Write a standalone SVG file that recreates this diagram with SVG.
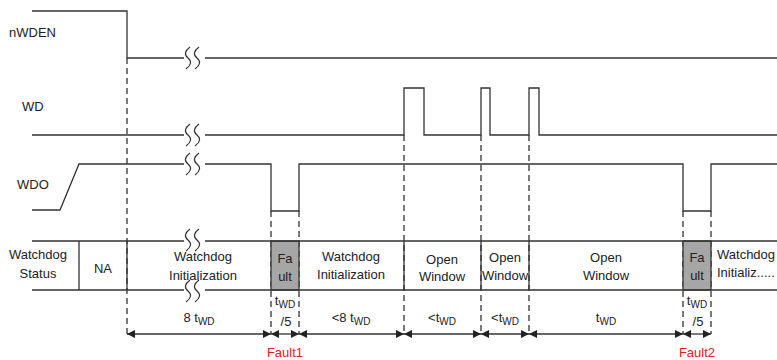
<svg xmlns="http://www.w3.org/2000/svg" width="777" height="360" viewBox="0 0 777 360">
<defs>
<style>
.sig{fill:none;stroke:#333;stroke-width:1.3}
.dash{fill:none;stroke:#333;stroke-width:1.3;stroke-dasharray:6,4}
.brk{fill:none;stroke:#333;stroke-width:1.2}
.t{font-family:"Liberation Sans",Arial,sans-serif;font-size:13px;fill:#222}
.c{text-anchor:middle}
.s{font-size:10px}
.red{fill:#e02020}
.fault{fill:#a6a6a6;stroke:#333;stroke-width:1.3}
.arr{fill:none;stroke:#333;stroke-width:1.3;marker-start:url(#ah);marker-end:url(#ah)}
</style>
<marker id="ah" viewBox="0 0 10 10" refX="10" refY="5" markerWidth="8" markerHeight="8" markerUnits="userSpaceOnUse" orient="auto-start-reverse">
<path d="M0,0 L10,5 L0,10 Z" fill="#222"/>
</marker>
<path id="sq" d="M4,-11 Q-4,-5 2,0 Q8,5 0,11"/>
</defs>

<g id="labels">
<text class="t" x="9" y="37">nWDEN</text>
<text class="t" x="22" y="111">WD</text>
<text class="t" x="17" y="189">WDO</text>
</g>

<g id="connectors">
<line class="dash" x1="127" y1="58" x2="127" y2="334"/>
<line class="dash" x1="271" y1="211" x2="271" y2="334"/>
<line class="dash" x1="299" y1="211" x2="299" y2="334"/>
<line class="dash" x1="404" y1="135" x2="404" y2="334"/>
<line class="dash" x1="481" y1="135" x2="481" y2="334"/>
<line class="dash" x1="529" y1="135" x2="529" y2="334"/>
<line class="dash" x1="683" y1="211" x2="683" y2="334"/>
<line class="dash" x1="711" y1="211" x2="711" y2="334"/>
</g>

<g id="nWDEN">
<path class="sig" d="M32,11 H127 V58 H184"/>
<path class="sig" d="M205,58 H777"/>
<use href="#sq" class="brk" x="186" y="58"/>
<use href="#sq" class="brk" x="195" y="58"/>
</g>

<g id="WD">
<path class="sig" d="M32,135 H184"/>
<path class="sig" d="M205,135 H404 V88 H424 V135 H481 V88 H490 V135 H529 V88 H539 V135 H777"/>
<use href="#sq" class="brk" x="186" y="135"/>
<use href="#sq" class="brk" x="195" y="135"/>
</g>

<g id="WDO">
<path class="sig" d="M32,210 H60 L79,164 H184"/>
<path class="sig" d="M205,164 H271 V211 H299 V164 H683 V211 H711 V164 H777"/>
<use href="#sq" class="brk" x="186" y="164"/>
<use href="#sq" class="brk" x="195" y="164"/>
</g>

<g id="status">
<rect class="fault" x="271" y="241" width="28" height="49"/>
<rect class="fault" x="683" y="241" width="28" height="49"/>
<path class="sig" d="M32,241 H184 M205,241 H777 M32,290 H184 M205,290 H777"/>
<path class="sig" d="M79,241 V290 M127,241 V290 M404,241 V290 M481,241 V290 M529,241 V290"/>
<use href="#sq" class="brk" x="186" y="240"/>
<use href="#sq" class="brk" x="195" y="240"/>
<use href="#sq" class="brk" x="186" y="291"/>
<use href="#sq" class="brk" x="195" y="291"/>
<text class="t c" x="38" y="259">Watchdog</text>
<text class="t c" x="38" y="278">Status</text>
<text class="t c" x="103" y="273">NA</text>
<text class="t c" x="203" y="261">Watchdog</text>
<text class="t c" x="203" y="280">Initialization</text>
<text class="t c" x="285" y="263">Fa</text>
<text class="t c" x="285" y="281">ult</text>
<text class="t c" x="351" y="261">Watchdog</text>
<text class="t c" x="351" y="279">Initialization</text>
<text class="t c" x="442" y="264">Open</text>
<text class="t c" x="442" y="281">Window</text>
<text class="t c" x="505" y="262">Open</text>
<text class="t c" x="505" y="280">Window</text>
<text class="t c" x="606" y="262">Open</text>
<text class="t c" x="606" y="280">Window</text>
<text class="t c" x="697" y="262">Fa</text>
<text class="t c" x="697" y="280">ult</text>
<text class="t" x="717" y="259">Watchdog</text>
<text class="t" x="717" y="277">Initializ.....</text>
</g>

<g id="durations">
<line class="arr" x1="127" y1="334" x2="271" y2="334"/>
<line class="arr" x1="271" y1="334" x2="299" y2="334"/>
<line class="arr" x1="299" y1="334" x2="404" y2="334"/>
<line class="arr" x1="404" y1="334" x2="481" y2="334"/>
<line class="arr" x1="481" y1="334" x2="529" y2="334"/>
<line class="arr" x1="529" y1="334" x2="683" y2="334"/>
<line class="arr" x1="683" y1="334" x2="711" y2="334"/>
<text class="t c" x="199" y="322">8 t<tspan class="s" dy="3">WD</tspan></text>
<text class="t c" x="285" y="305">t<tspan class="s" dy="3">WD</tspan></text>
<text class="t c" x="286" y="326">/5</text>
<text class="t c" x="351" y="322">&lt;8 t<tspan class="s" dy="3">WD</tspan></text>
<text class="t c" x="442" y="322">&lt;t<tspan class="s" dy="3">WD</tspan></text>
<text class="t c" x="505" y="322">&lt;t<tspan class="s" dy="3">WD</tspan></text>
<text class="t c" x="606" y="322">t<tspan class="s" dy="3">WD</tspan></text>
<text class="t c" x="697" y="305">t<tspan class="s" dy="3">WD</tspan></text>
<text class="t c" x="698" y="326">/5</text>
<text class="t c red" x="285" y="357">Fault1</text>
<text class="t c red" x="697" y="357">Fault2</text>
</g>
</svg>
